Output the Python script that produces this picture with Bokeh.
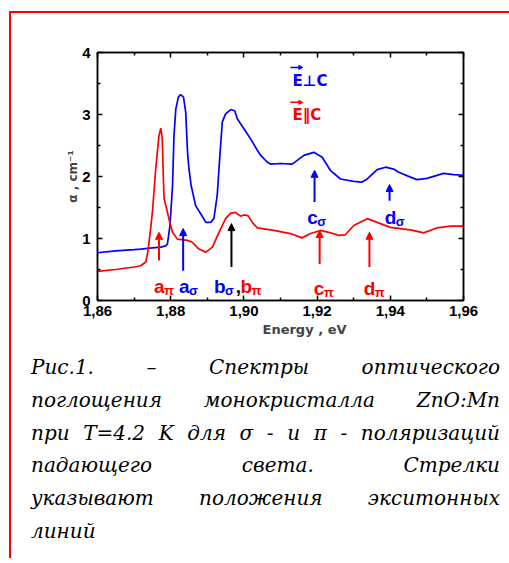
from bokeh.core.properties import value
from bokeh.embed import file_html
from bokeh.layouts import column
from bokeh.models import (Arrow, ColumnDataSource, CustomJSTickFormatter, Div,
                          FixedTicker, InlineStyleSheet, LinearAxis, NormalHead,
                          Range1d, Title)
from bokeh.plotting import figure
from bokeh.resources import INLINE

# --- absorption spectra, photon energy in eV, alpha in cm^-1 ---
energy_perp = [1.8600, 1.8650, 1.8700, 1.8718, 1.8750, 1.8773, 1.8786, 1.8791,
               1.8798, 1.8805, 1.8809, 1.8814, 1.8821, 1.8827, 1.8835, 1.8841,
               1.8846, 1.8850, 1.8856, 1.8868, 1.8882, 1.8896, 1.8909, 1.8918,
               1.8927, 1.8935, 1.8941, 1.8950, 1.8964, 1.8975, 1.8982, 1.8991,
               1.9018, 1.9037, 1.9046, 1.9064, 1.9073, 1.9100, 1.9132, 1.9164,
               1.9191, 1.9214, 1.9236, 1.9264, 1.9300, 1.9323, 1.9337, 1.9364,
               1.9387, 1.9409, 1.9423, 1.9455, 1.9473, 1.9500, 1.9546, 1.9573,
               1.9600]
alpha_perp = [0.77, 0.80, 0.82, 0.83, 0.85, 0.86, 0.88, 0.91,
              1.21, 1.85, 2.66, 3.09, 3.28, 3.32, 3.28, 3.04,
              2.39, 2.12, 1.85, 1.53, 1.40, 1.26, 1.26, 1.32,
              1.69, 2.39, 2.88, 3.01, 3.08, 3.06, 2.93, 2.85,
              2.61, 2.42, 2.34, 2.23, 2.20, 2.21, 2.20, 2.34,
              2.39, 2.31, 2.10, 1.96, 1.92, 1.91, 1.96, 2.11,
              2.15, 2.12, 2.07, 1.99, 1.95, 1.97, 2.05, 2.03,
              2.02]

energy_par = [1.8600, 1.8650, 1.8700, 1.8718, 1.8732, 1.8738, 1.8745, 1.8750,
              1.8759, 1.8768, 1.8773, 1.8777, 1.8780, 1.8782, 1.8789, 1.8795,
              1.8805, 1.8818, 1.8846, 1.8859, 1.8877, 1.8896, 1.8914, 1.8932,
              1.8950, 1.8964, 1.8977, 1.8991, 1.9000, 1.9011, 1.9023, 1.9037,
              1.9082, 1.9127, 1.9159, 1.9182, 1.9209, 1.9232, 1.9259, 1.9277,
              1.9300, 1.9337, 1.9364, 1.9400, 1.9455, 1.9491, 1.9527, 1.9564,
              1.9600]
alpha_par = [0.47, 0.50, 0.54, 0.56, 0.62, 0.80, 1.15, 1.42,
             2.12, 2.66, 2.78, 2.61, 1.96, 1.64, 1.48, 1.32,
             1.10, 0.99, 0.97, 0.94, 0.83, 0.78, 0.86, 1.10,
             1.32, 1.41, 1.42, 1.36, 1.38, 1.37, 1.26, 1.17,
             1.13, 1.08, 1.01, 1.08, 1.13, 1.10, 1.05, 1.06,
             1.21, 1.32, 1.26, 1.18, 1.14, 1.09, 1.17, 1.20,
             1.20]

# exciton line positions (eV) and the alpha span of each marker arrow
exciton_names = ["a_pi", "a_sigma", "b", "c_sigma", "d_sigma", "c_pi", "d_pi"]
exciton_energy = [1.8768, 1.8834, 1.8966, 1.9193, 1.9398, 1.9207, 1.9343]
arrow_from = [0.645, 0.48, 0.54, 1.59, 1.61, 0.59, 0.54]
arrow_to = [1.10, 1.16, 1.24, 2.10, 1.87, 1.13, 1.10]

x_ticks = [1.86, 1.88, 1.90, 1.92, 1.94, 1.96]
x_minor = [1.87, 1.89, 1.91, 1.93, 1.95]
y_ticks = [0, 1, 2, 3, 4]
y_minor = [0.5, 1.5, 2.5, 3.5]

caption_lines = [
    "Рис.1. – Спектры оптического",
    "поглощения монокристалла ZnO:Mn",
    "при T=4.2 K для σ -  и π - поляризаций",
    "падающего света. Стрелки",
    "указывают положения экситонных",
    "линий",
]

BLUE = "#0000ff"
RED = "#ff0000"
SANS = "Liberation Sans"
WIDE = "DejaVu Sans"

p = figure(width=498, height=340, x_range=Range1d(1.86, 1.96), y_range=Range1d(0, 4),
           output_backend="svg", toolbar_location=None,
           min_border_left=86, min_border_right=46, min_border_top=39, min_border_bottom=53)
p.grid.visible = False
p.outline_line_color = "black"
p.outline_line_width = 1.5
p.background_fill_color = "white"
p.border_fill_color = "white"

p.add_layout(LinearAxis(), "above")
p.add_layout(LinearAxis(), "right")

xfmt = CustomJSTickFormatter(code="return tick.toFixed(2).replace('.', ',');")
for ax in p.xaxis:
    ax.ticker = FixedTicker(ticks=x_ticks, minor_ticks=x_minor)
    ax.formatter = xfmt
for ax in p.yaxis:
    ax.ticker = FixedTicker(ticks=y_ticks, minor_ticks=y_minor)

for ax in list(p.xaxis) + list(p.yaxis):
    ax.axis_line_width = 1.5
    ax.major_tick_in = 5
    ax.major_tick_out = 0
    ax.minor_tick_in = 3
    ax.minor_tick_out = 0
    ax.major_tick_line_width = 1.5
    ax.minor_tick_line_width = 1.5
    ax.major_label_text_font = SANS
    ax.major_label_text_font_style = "bold"
    ax.major_label_text_font_size = "15px"
    ax.major_label_text_color = "black"

p.xaxis[0].major_label_standoff = 4
p.yaxis[0].major_label_standoff = 7
p.above[0].major_label_text_color = None
p.right[0].major_label_text_color = None

# axis titles
p.add_layout(Title(text="α , cm⁻¹", align="center", standoff=0,
                   text_font=WIDE, text_font_style="bold", text_font_size="12px"), "left")
p.add_layout(Title(text="Energy , eV", align="left", offset=165, standoff=2,
                   text_font=WIDE, text_font_style="bold", text_font_size="13px"), "below")

# spectra
p.line(energy_perp, alpha_perp, line_color=BLUE, line_width=1.7)
p.line(energy_par, alpha_par, line_color=RED, line_width=1.7)

# exciton marker arrows
arrow_colors = [RED, BLUE, "black", BLUE, BLUE, RED, RED]
for e, y0, y1, c in zip(exciton_energy, arrow_from, arrow_to, arrow_colors):
    p.add_layout(Arrow(x_start=e, y_start=y0, x_end=e, y_end=y1,
                       line_color=c, line_width=2,
                       end=NormalHead(size=7, fill_color=c, line_color=c, line_width=1)))

# exciton labels: letter + subscript polarisation
lab = ColumnDataSource(dict(
    main=["a", "a", "b", "b", "c", "d", "c", "d"],
    sub=["π", "σ", "σ", "π", "σ", "σ", "π", "π"],
    x=[1.87544, 1.88227, 1.89181, 1.89910, 1.91730, 1.93847, 1.91910, 1.93274],
    y=[0.231, 0.231, 0.231, 0.231, 1.334, 1.334, 0.189, 0.189],
    w=[10, 10, 11, 11, 10, 11, 10, 11],
    mc=[RED, BLUE, BLUE, RED, BLUE, BLUE, RED, RED],
))
p.text(x="x", y="y", text="main", source=lab, text_color="mc",
       text_font=value(SANS), text_font_style="bold", text_font_size="19px",
       text_align="left", text_baseline="alphabetic")
p.text(x="x", y="y", text="sub", source=lab, text_color="mc", x_offset="w", y_offset=4,
       text_font=value(SANS), text_font_style="bold", text_font_size="13px",
       text_align="left", text_baseline="alphabetic")
p.text(x=[1.89774], y=[0.231], text=[","], text_color="black",
       text_font=value(SANS), text_font_style="bold", text_font_size="19px",
       text_align="left", text_baseline="alphabetic")

# polarisation key
p.text(x=[1.91330, 1.91330], y=[3.548, 2.984], text=["E⊥C", "E‖C"],
       text_color=[BLUE, RED], text_font=value(WIDE), text_font_style="bold",
       text_font_size="15px", text_align="left", text_baseline="alphabetic")
for yv, c in ((3.76, BLUE), (3.196, RED)):
    p.add_layout(Arrow(x_start=1.91270, y_start=yv, x_end=1.91610, y_end=yv,
                       line_color=c, line_width=1.5,
                       end=NormalHead(size=4, fill_color=c, line_color=c, line_width=1)))

# justified italic caption under the chart
rows = []
for i, line in enumerate(caption_lines):
    cls = "ln last" if i == len(caption_lines) - 1 else "ln"
    rows.append(f'<div class="{cls}">{line}</div>')

caption_css = InlineStyleSheet(css="""
.cap, .cap * {
  font-family: "DejaVu Serif", "Liberation Serif", serif !important;
  font-style: italic !important;
  font-size: 20px !important;
  line-height: 32.8px !important;
  color: #000 !important;
}
.cap { width: 469px; margin-left: 20px; margin-top: -2px; }
.ln { white-space: nowrap; text-align: justify; text-align-last: justify; }
.ln.last { text-align: left; text-align-last: left; }
""")
caption = Div(text='<div class="cap">' + "".join(rows) + "</div>",
              width=498, height=205, margin=0, stylesheets=[caption_css])

page = column(p, caption, margin=(11, 0, 0, 9), spacing=0,
              styles={"border-top": "2px solid #ff0000", "border-left": "2px solid #ff0000"})

open("out.html", "w").write(file_html(page, INLINE, title="ZnO:Mn absorption"))
